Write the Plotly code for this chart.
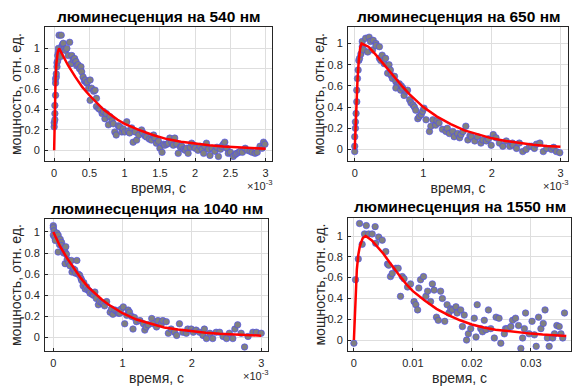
import numpy as np
import plotly.graph_objects as go

# ---------------- data (time in ms; converted to seconds for plotting) ----------------
titles = ["люминесценция на 540 нм", "люминесценция на 650 нм",
          "люминесценция на 1040 нм", "люминесценция на 1550 нм"]
x_label = "время, с"
y_label = "мощность, отн. ед."

p540 = [(0.00,0.23),(0.00,0.27),(0.01,0.30),(0.01,0.36),(0.01,0.44),(0.02,0.54),(0.02,0.66),(0.02,0.70),
        (0.03,0.72),(0.03,0.75),(0.04,0.82),(0.04,0.86),(0.05,0.88),(0.05,0.93),(0.06,0.96),(0.06,1.00),
        (0.07,1.13),(0.08,0.97),(0.09,0.92),(0.10,1.13),(0.11,1.02),(0.12,1.04),(0.13,1.05),(0.14,0.99),
        (0.16,0.98),(0.18,1.00),(0.20,0.93),(0.22,1.06),(0.24,0.85),(0.25,0.93),(0.27,0.89),(0.29,0.90),
        (0.31,0.87),(0.32,0.83),(0.34,0.84),(0.36,0.80),(0.38,0.82),(0.39,0.77),(0.41,0.72),(0.43,0.68),
        (0.44,0.69),(0.46,0.66),(0.47,0.67),(0.49,0.61),(0.51,0.69),(0.51,0.49),(0.53,0.61),(0.56,0.58),
        (0.58,0.59),(0.60,0.51),(0.60,0.43),(0.63,0.41),(0.65,0.40),(0.68,0.36),(0.70,0.38),(0.72,0.31),
        (0.74,0.36),(0.77,0.25),(0.79,0.33),(0.82,0.29),(0.84,0.26),(0.86,0.18),(0.88,0.15),(0.91,0.24),
        (0.93,0.23),(0.96,0.18),(0.98,0.21),(1.00,0.18),(1.03,0.28),(1.05,0.19),(1.07,0.17),(1.10,0.22),
        (1.12,0.08),(1.15,0.18),(1.17,0.10),(1.20,0.15),(1.24,0.20),(1.26,0.17),(1.29,0.14),(1.31,0.13),
        (1.35,0.11),(1.38,0.10),(1.41,0.15),(1.43,0.12),(1.45,0.07),(1.48,0.09),(1.50,0.02),(1.53,-0.02),
        (1.55,0.06),(1.57,0.05),(1.60,0.06),(1.62,0.07),(1.64,0.12),(1.67,0.08),(1.69,0.05),(1.71,0.12),
        (1.74,0.06),(1.76,-0.03),(1.79,0.03),(1.81,0.04),(1.84,0.01),(1.86,0.00),(1.88,0.02),(1.90,-0.03),
        (1.93,0.03),(1.95,0.07),(1.98,0.05),(2.00,0.02),(2.04,0.00),(2.07,0.04),(2.10,0.01),(2.12,-0.03),
        (2.14,0.04),(2.16,0.07),(2.19,0.01),(2.21,-0.05),(2.24,0.02),(2.28,-0.01),(2.31,0.03),(2.33,-0.06),
        (2.36,0.01),(2.38,0.04),(2.40,0.06),(2.42,0.08),(2.45,0.02),(2.47,-0.03),(2.50,-0.02),(2.54,-0.06),
        (2.57,-0.04),(2.59,-0.03),(2.62,-0.02),(2.64,-0.01),(2.67,-0.02),(2.71,0.02),(2.74,0.00),(2.78,-0.01),
        (2.81,-0.02),(2.85,-0.03),(2.88,-0.02),(2.92,0.04),(2.95,0.02),(2.97,0.08),(2.99,0.06)]
fit540_x = [0, 0.01, 0.02, 0.03, 0.05, 0.07, 0.1, 0.2, 0.3, 0.4, 0.5, 0.6, 0.7, 0.8, 0.9, 1.0,
            1.2, 1.4, 1.6, 1.8, 2.0, 2.2, 2.4, 2.6, 2.8, 3.0]
fit540_y = [0, 0.45, 0.7, 0.84, 0.96, 1.0, 0.96, 0.83, 0.72, 0.62, 0.54, 0.47, 0.40, 0.35, 0.30, 0.26,
            0.20, 0.15, 0.11, 0.085, 0.065, 0.05, 0.038, 0.028, 0.02, 0.015]

p650 = [(0.00,-0.02),(0.00,0.03),(0.00,0.12),(0.01,0.20),(0.01,0.26),(0.02,0.34),(0.03,0.45),(0.03,0.56),
        (0.04,0.67),(0.05,0.75),(0.06,0.84),(0.07,0.86),(0.09,0.90),(0.11,0.97),(0.13,0.94),(0.11,1.02),
        (0.16,1.05),(0.21,1.06),(0.23,1.02),(0.27,1.03),(0.31,1.00),(0.19,0.92),(0.26,0.94),(0.31,0.98),
        (0.36,0.97),(0.36,0.86),(0.38,0.84),(0.40,0.89),(0.43,0.81),(0.45,0.86),(0.50,0.80),(0.48,0.72),
        (0.52,0.75),(0.53,0.70),(0.55,0.67),(0.58,0.69),(0.60,0.64),(0.62,0.61),(0.65,0.62),(0.60,0.58),
        (0.67,0.56),(0.68,0.60),(0.70,0.58),(0.72,0.51),(0.75,0.55),(0.77,0.56),(0.80,0.47),(0.82,0.44),
        (0.85,0.42),(0.87,0.40),(0.89,0.37),(0.92,0.29),(0.94,0.31),(0.97,0.33),(0.99,0.36),(1.01,0.39),
        (1.04,0.28),(1.09,0.17),(1.11,0.22),(1.14,0.28),(1.18,0.23),(1.20,0.27),(1.23,0.25),(1.28,0.19),
        (1.33,0.17),(1.35,0.20),(1.38,0.15),(1.43,0.17),(1.45,0.12),(1.50,0.15),(1.53,0.11),(1.55,0.14),
        (1.58,0.17),(1.62,0.22),(1.65,0.09),(1.68,0.13),(1.70,0.12),(1.75,0.08),(1.79,0.12),(1.84,0.06),
        (1.87,0.09),(1.92,0.08),(1.95,0.10),(1.99,0.04),(2.02,0.14),(2.06,0.11),(2.11,0.06),(2.16,0.03),
        (2.21,0.08),(2.26,0.03),(2.30,0.06),(2.31,0.04),(2.36,0.01),(2.40,0.06),(2.45,-0.02),(2.50,0.00),
        (2.55,0.03),(2.58,0.03),(2.62,0.01),(2.65,0.05),(2.70,0.06),(2.75,-0.02),(2.80,0.01),(2.87,0.00),
        (2.90,0.02),(2.94,-0.02),(2.99,-0.03)]
fit650_x = [0, 0.02, 0.04, 0.06, 0.08, 0.1, 0.2, 0.3, 0.4, 0.5, 0.6, 0.7, 0.8, 0.9, 1.0,
            1.2, 1.4, 1.6, 1.8, 2.0, 2.2, 2.4, 2.6, 2.8, 3.0]
fit650_y = [0, 0.35, 0.65, 0.85, 0.96, 1.0, 0.97, 0.90, 0.82, 0.74, 0.66, 0.59, 0.52, 0.46, 0.40,
            0.31, 0.24, 0.18, 0.14, 0.105, 0.08, 0.06, 0.045, 0.033, 0.025]

p1040 = [(0.00,1.06),(0.00,1.04),(0.01,1.01),(0.00,0.97),(0.02,0.95),(0.03,0.92),(0.05,0.99),(0.07,0.97),
         (0.09,0.88),(0.10,0.93),(0.12,0.90),(0.07,0.81),(0.12,0.87),(0.14,0.84),(0.15,0.80),(0.17,0.81),
         (0.18,0.86),(0.19,0.79),(0.17,0.70),(0.20,0.74),(0.22,0.71),(0.24,0.68),(0.26,0.73),(0.27,0.62),
         (0.29,0.65),(0.31,0.64),(0.32,0.61),(0.34,0.73),(0.36,0.60),(0.38,0.59),(0.40,0.56),(0.41,0.54),
         (0.43,0.49),(0.44,0.52),(0.46,0.46),(0.48,0.48),(0.50,0.45),(0.52,0.44),(0.53,0.42),(0.56,0.41),
         (0.58,0.40),(0.60,0.43),(0.62,0.37),(0.65,0.31),(0.67,0.34),(0.70,0.33),(0.72,0.32),(0.74,0.30),
         (0.77,0.34),(0.82,0.24),(0.84,0.27),(0.86,0.22),(0.89,0.26),(0.92,0.25),(0.94,0.23),(0.96,0.23),
         (0.98,0.27),(1.01,0.29),(1.03,0.13),(1.06,0.21),(1.08,0.26),(1.10,0.24),(1.13,0.20),(1.15,0.08),
         (1.17,0.19),(1.20,0.15),(1.25,0.16),(1.30,0.13),(1.32,0.07),(1.34,0.10),(1.37,0.12),(1.42,0.18),
         (1.44,0.13),(1.49,0.10),(1.51,0.16),(1.56,0.13),(1.58,0.16),(1.63,0.15),(1.66,0.04),(1.70,0.08),
         (1.75,0.05),(1.78,0.02),(1.82,0.13),(1.87,0.05),(1.92,0.04),(1.94,0.08),(1.99,0.08),(2.02,0.05),
         (2.06,0.07),(2.11,0.05),(2.16,0.02),(2.18,0.08),(2.21,-0.01),(2.26,0.04),(2.30,-0.01),(2.35,0.05),
         (2.40,0.05),(2.45,0.01),(2.50,-0.01),(2.54,0.04),(2.59,-0.01),(2.62,0.08),(2.66,0.12),(2.71,0.04),
         (2.76,-0.09),(2.81,0.01),(2.88,0.05),(2.93,0.05),(3.00,0.04)]
fit1040_x = [0, 0.1, 0.2, 0.3, 0.4, 0.5, 0.6, 0.7, 0.8, 0.9, 1.0, 1.2, 1.4, 1.6, 1.8, 2.0,
             2.2, 2.4, 2.6, 2.8, 3.0]
fit1040_y = [1.0, 0.86, 0.75, 0.65, 0.56, 0.48, 0.42, 0.36, 0.31, 0.27, 0.23, 0.17, 0.13, 0.095,
             0.075, 0.058, 0.045, 0.035, 0.028, 0.022, 0.017]

p1550 = [(0.0,-0.03),(0.28,0.58),(0.74,0.78),(0.96,1.12),(1.4,0.92),(1.8,1.02),(2.1,1.10),(2.5,1.02),
         (3.1,1.02),(3.6,1.09),(3.7,0.93),(4.2,0.99),(4.8,0.96),(5.4,0.85),(5.7,0.73),(5.9,0.72),
         (6.2,0.61),(6.5,0.64),(7.1,0.69),(7.5,0.69),(7.9,0.42),(8.2,0.61),(8.5,0.59),(9.1,0.51),
         (9.6,0.54),(10.2,0.37),(10.5,0.34),(10.8,0.29),(11.0,0.50),(11.3,0.58),(11.8,0.61),(12.2,0.42),
         (12.5,0.47),(13.0,0.37),(13.3,0.54),(13.6,0.48),(14.0,0.22),(14.3,0.19),(14.7,0.47),(15.0,0.40),
         (15.4,0.18),(15.8,0.34),(16.1,0.26),(16.4,0.30),(16.7,0.29),(17.3,0.32),(17.5,0.26),(18.1,0.29),
         (18.4,0.13),(18.7,0.24),(19.1,0.00),(19.4,0.06),(19.8,0.11),(20.4,0.21),(20.7,0.03),(20.9,0.34),
         (21.5,0.11),(21.8,0.08),(22.1,0.19),(22.4,0.10),(22.8,0.29),(23.2,0.11),(23.8,0.02),(24.1,0.22),
         (24.6,0.21),(24.9,-0.03),(25.5,0.06),(25.7,0.11),(26.0,0.11),(26.6,0.13),(26.9,0.19),(27.4,0.21),
         (27.9,0.14),(28.3,-0.08),(28.6,0.02),(28.9,0.11),(29.1,0.26),(29.7,0.06),(30.2,0.18),(30.6,0.05),
         (30.9,-0.06),(31.3,0.22),(31.7,0.11),(32.1,0.16),(32.4,0.29),(32.8,0.02),(33.1,-0.06),(33.7,0.02),
         (34.0,0.06),(34.4,0.14),(34.8,0.13),(35.1,0.06),(35.4,0.02),(35.7,0.26)]
fit1550_x = [0, 0.25, 0.5, 0.75, 1.0, 1.5, 2.0, 3, 4, 5, 6, 7, 8, 9, 10, 12, 14, 16, 18, 20,
             22, 24, 26, 28, 30, 32, 34, 36]
fit1550_y = [0, 0.45, 0.68, 0.82, 0.9, 0.98, 1.0, 0.96, 0.90, 0.83, 0.75, 0.67, 0.60, 0.53, 0.47,
             0.38, 0.30, 0.24, 0.19, 0.15, 0.12, 0.10, 0.085, 0.072, 0.062, 0.053, 0.045, 0.04]

ms_ticks = [0, 0.5, 1, 1.5, 2, 2.5, 3]
ms_ticks_b = [0, 1, 2, 3]
s_ticks_1550 = [0, 0.01, 0.02, 0.03]
y_ticks = [0, 0.2, 0.4, 0.6, 0.8, 1]

# ---------------- figure ----------------
W, H = 572, 387
FONT = "Liberation Sans, Arial, sans-serif"
TXT = "#262626"
MARK_FILL = "#808080"
MARK_EDGE = "#4646ff"

panels = [
    dict(pts=p540, fx=fit540_x, fy=fit540_y, xr=[-0.13e-3, 3.09e-3], yr=[-0.105, 1.21],
         ticks=ms_ticks, scale=1e-3, box=(45, 272, 27, 161), exp=True),
    dict(pts=p650, fx=fit650_x, fy=fit650_y, xr=[-0.098e-3, 3.11e-3], yr=[-0.109, 1.156],
         ticks=ms_ticks_b, scale=1e-3, box=(348, 568, 27, 161), exp=True),
    dict(pts=p1040, fx=fit1040_x, fy=fit1040_y, xr=[-0.12e-3, 3.098e-3], yr=[-0.128, 1.123],
         ticks=ms_ticks_b, scale=1e-3, box=(45, 268, 219, 351), exp=True),
    dict(pts=p1550, fx=fit1550_x, fy=fit1550_y, xr=[-0.001, 0.0368], yr=[-0.105, 1.173],
         ticks=None, scale=1e-3, box=(348, 571, 218, 351), exp=False),
]

fig = go.Figure()
annotations = []
for i, p in enumerate(panels):
    n = "" if i == 0 else str(i + 1)
    xa, ya = "x" + n, "y" + n
    px = np.array([q[0] for q in p["pts"]]) * p["scale"]
    py = np.array([q[1] for q in p["pts"]])
    fig.add_trace(go.Scatter(x=px, y=py, mode="markers", xaxis=xa, yaxis=ya,
                             marker=dict(size=6.5, color=MARK_FILL,
                                         line=dict(color=MARK_EDGE, width=0.6)),
                             showlegend=False))
    fig.add_trace(go.Scatter(x=np.array(p["fx"]) * p["scale"], y=p["fy"], mode="lines",
                             xaxis=xa, yaxis=ya, line=dict(color="#ff0000", width=2.5),
                             showlegend=False))
    x0, x1, y0, y1 = p["box"]
    dom_x = [x0 / W, x1 / W]
    dom_y = [1 - y1 / H, 1 - y0 / H]
    if p["ticks"] is not None:
        tv = [t * 1e-3 for t in p["ticks"]]
        tt = [("%g" % t) for t in p["ticks"]]
    else:
        tv = s_ticks_1550
        tt = [("%g" % t) for t in s_ticks_1550]
    axis_common = dict(showgrid=True, gridcolor="#dedede", gridwidth=1, zeroline=False,
                       showline=True, linecolor="#262626", linewidth=1, mirror=True,
                       ticks="inside", ticklen=3, tickcolor="#262626", automargin=False,
                       tickfont=dict(family=FONT, size=11, color=TXT))
    fig.layout["xaxis" + n] = dict(axis_common, domain=dom_x, range=p["xr"], anchor=ya,
                                   tickvals=tv, ticktext=tt, ticklabelstandoff=2,
                                   title=dict(text=x_label, font=dict(family=FONT, size=14, color=TXT),
                                              standoff=4))
    fig.layout["yaxis" + n] = dict(axis_common, domain=dom_y, range=p["yr"], anchor=xa,
                                   tickvals=y_ticks, ticktext=[("%g" % t) for t in y_ticks],
                                   ticklabelstandoff=2)
    annotations.append(dict(text=y_label, x=(x0 - 29) / W, y=1 - (y0 + y1) / 2 / H,
                            xref="paper", yref="paper", showarrow=False, textangle=-90,
                            xanchor="center", yanchor="middle",
                            font=dict(family=FONT, size=14, color=TXT)))
    annotations.append(dict(text="<b>" + titles[i] + "</b>", x=(x0 + x1) / 2 / W, y=1 - (y0 - 11) / H,
                            xref="paper", yref="paper", showarrow=False, xanchor="center",
                            yanchor="middle", font=dict(family=FONT, size=15.5, color="#000000")))
    if p["exp"]:
        annotations.append(dict(text="×10<sup>-3</sup>", x=(x1 + 3) / W, y=1 - (y1 + 24) / H,
                                xref="paper", yref="paper", showarrow=False, xanchor="right",
                                yanchor="middle", font=dict(family=FONT, size=11, color=TXT)))

fig.update_layout(width=W, height=H, margin=dict(l=0, r=0, t=0, b=0, autoexpand=False),
                  paper_bgcolor="white", plot_bgcolor="white",
                  annotations=annotations, showlegend=False)
fig.write_html("out.html", config={"displayModeBar": False},
               post_script="document.body.style.margin='0px';")
